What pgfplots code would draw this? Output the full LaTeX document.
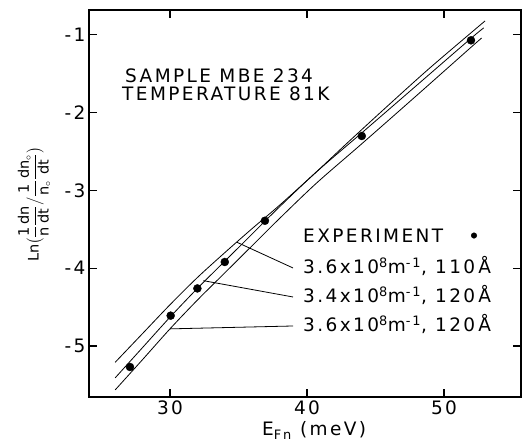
\documentclass[border=0pt]{standalone}
\usepackage{pgfplots}
\pgfplotsset{compat=1.18}
\usepackage{amsmath}
\usepackage{fontspec}
\setmainfont{DejaVu Sans}
\newfontfamily\annot{DejaVu Sans}[LetterSpace=13]
\newcommand\af{\annot\fontsize{18.5bp}{20bp}\selectfont}
\begin{document}
\begin{tikzpicture}
\useasboundingbox (-89bp,-51bp) rectangle (433bp,397bp);
\begin{axis}[
  at={(0,0)}, anchor=south west,
  scale only axis, width=432bp, height=387bp,
  xmin=24.09, xmax=55.62, ymin=-5.656, ymax=-0.68,
  xtick={30,40,50}, ytick={-5,-4,-3,-2,-1},
  xticklabels={30,40,50}, yticklabels={-5,-4,-3,-2,-1},
  tick align=inside, major tick length=8bp,
  axis line style={line width=1.4bp},
  every tick/.style={black, line width=1.2bp},
  ticklabel style={font=\af},
  clip=false,
]
% 3.6x10^8 m^-1, 110 A (upper at low energy)
\addplot[black, line width=0.8bp, smooth, tension=0.5] coordinates {
(26.0,-5.21) (28.0,-4.84) (30.0,-4.47) (32.0,-4.12) (34.0,-3.80) (36.0,-3.49)
(38.0,-3.19) (40.7,-2.76) (43.0,-2.38) (46.0,-1.895) (49.0,-1.42) (53.0,-0.82)};
% 3.4x10^8 m^-1, 120 A
\addplot[black, line width=0.8bp, smooth, tension=0.5] coordinates {
(26.0,-5.41) (28.0,-5.02) (30.0,-4.63) (32.0,-4.26) (34.0,-3.91) (36.0,-3.56)
(38.0,-3.21) (40.7,-2.76) (44.0,-2.26) (48.0,-1.65) (52.0,-1.04) (52.9,-0.91)};
% 3.6x10^8 m^-1, 120 A
\addplot[black, line width=0.8bp, smooth, tension=0.5] coordinates {
(26.0,-5.565) (28.0,-5.175) (30.0,-4.78) (32.0,-4.41) (34.0,-4.06) (36.0,-3.71)
(38.0,-3.36) (40.7,-2.905) (44.0,-2.40) (48.0,-1.78) (52.0,-1.155) (52.75,-1.04)};
% experiment
\addplot[only marks, mark=*, mark size=4bp, black] coordinates {
(27.08,-5.27) (30.05,-4.61) (32.0,-4.26) (34.0,-3.92) (36.93,-3.39) (44.0,-2.30) (51.97,-1.07)};
% legend dot
\addplot[only marks, mark=*, mark size=2.8bp, black] coordinates {(52.19,-3.58)};

% leader lines
\draw[line width=0.8bp] (axis cs:34.87,-3.665) -- (axis cs:38.98,-3.997);
\draw[line width=0.8bp] (axis cs:32.43,-4.16) -- (axis cs:38.98,-4.37);
\draw[line width=0.8bp] (axis cs:30.0,-4.78) -- (axis cs:38.98,-4.743);

\node[anchor=base west, font=\af, inner sep=0pt] at (axis cs:26.72,-1.615) {SAMPLE MBE 234};
\node[anchor=base west, font=\af, inner sep=0pt] at (axis cs:26.5,-1.85) {TEMPERATURE 81K};
\node[anchor=base west, font=\af, inner sep=0pt] at (axis cs:39.71,-3.667) {EXPERIMENT};
\node[anchor=base west, font=\af, inner sep=0pt] at (axis cs:39.71,-4.074) {3.6x10\textsuperscript{8}m\textsuperscript{-1}, 110\,Å};
\node[anchor=base west, font=\af, inner sep=0pt] at (axis cs:39.71,-4.438) {3.4x10\textsuperscript{8}m\textsuperscript{-1}, 120\,Å};
\node[anchor=base west, font=\af, inner sep=0pt] at (axis cs:39.71,-4.811) {3.6x10\textsuperscript{8}m\textsuperscript{-1}, 120\,Å};

% axis labels
\node[anchor=base west, font=\af, inner sep=0pt] at (axis cs:36.72,-6.157) {E\textsubscript{Fn} (meV)};
\node[rotate=90, font=\fontsize{14.5bp}{17bp}\selectfont, inner sep=0pt] at (axis cs:20.1,-3.18)
 {Ln$\bigl(\dfrac{\text{1}}{\text{n}}\dfrac{\text{dn}}{\text{dt}}\big/\dfrac{\text{1}}{\text{n}_\circ}\dfrac{\text{dn}_\circ}{\text{dt}}\bigr)$};
\end{axis}
\end{tikzpicture}
\end{document}
